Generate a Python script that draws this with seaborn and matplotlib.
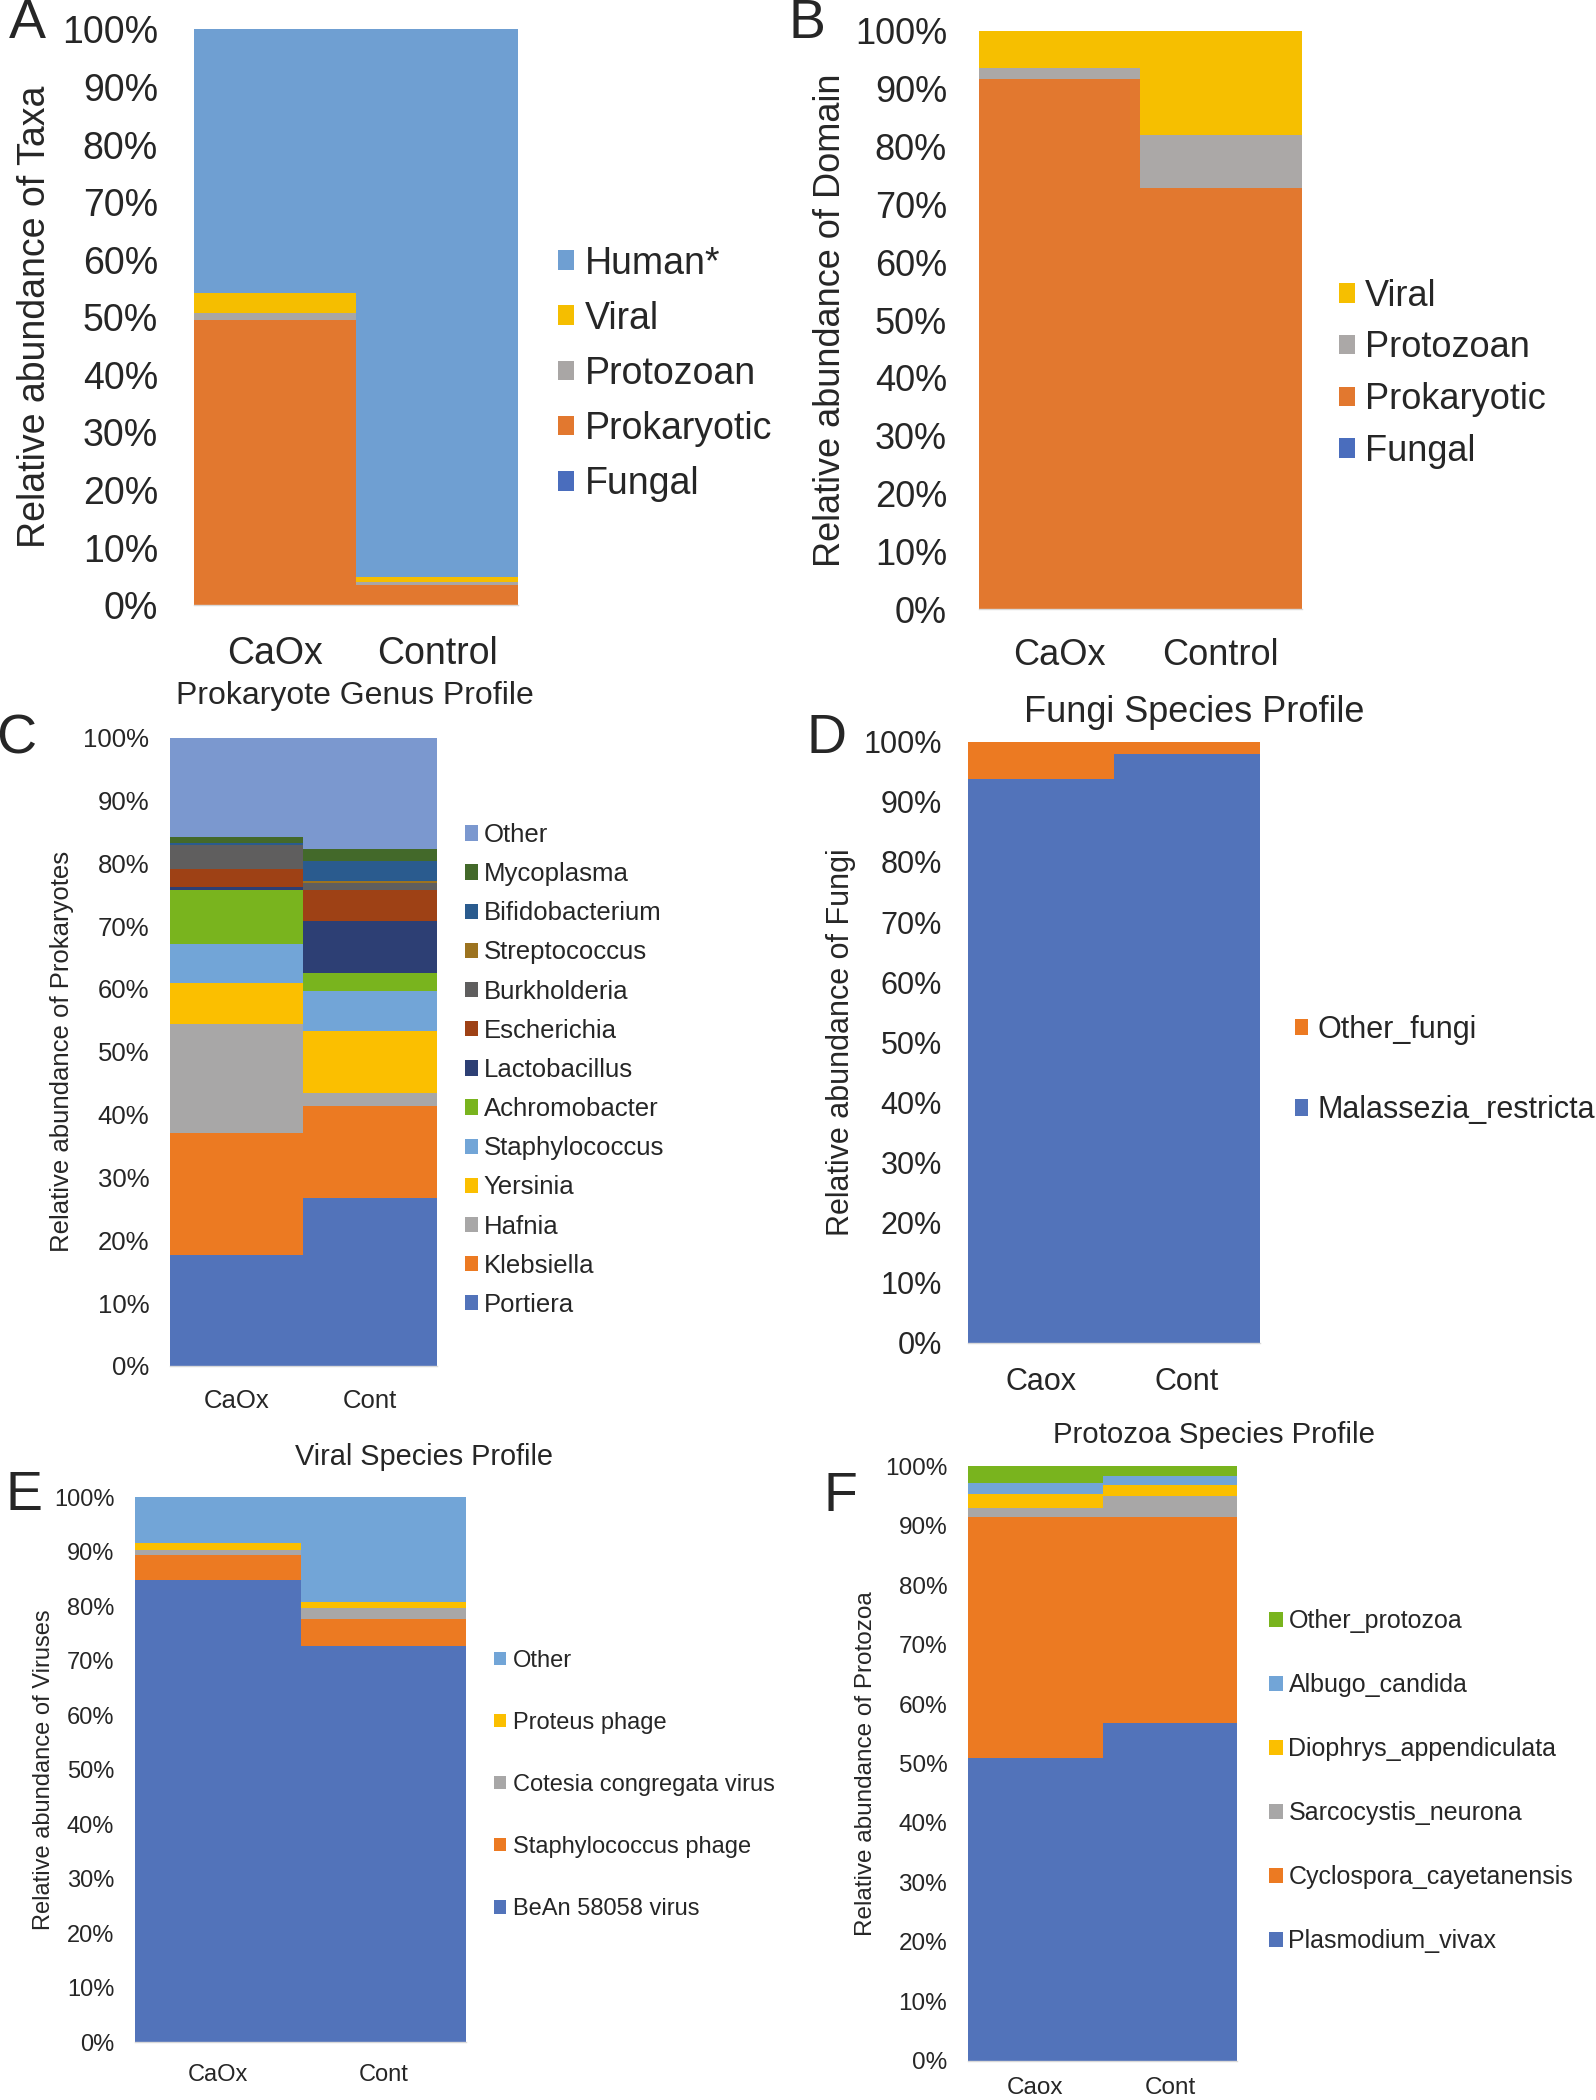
import numpy as np
import matplotlib
matplotlib.use("Agg")
import matplotlib.pyplot as plt
from matplotlib.patches import Patch
import seaborn as sns

sns.set_theme(style="white")
plt.rcParams["font.family"] = ["Liberation Sans", "DejaVu Sans"]

# ---- Panel A: taxa ----
samples_a = ["CaOx", "Control"]
taxa_names = ["Fungal", "Prokaryotic", "Protozoan", "Viral", "Human*"]
fungal_a = [0.1, 0.05]
prokaryotic_a = [49.5, 3.5]
protozoan_a = [1.2, 0.4]
viral_a = [3.5, 1.0]
human_a = [45.7, 95.05]

# ---- Panel B: domain ----
samples_b = ["CaOx", "Control"]
domain_names = ["Fungal", "Prokaryotic", "Protozoan", "Viral"]
fungal_b = [0.05, 0.05]
prokaryotic_b = [91.6, 72.7]
protozoan_b = [1.9, 9.3]
viral_b = [6.45, 17.95]

# ---- Panel C: prokaryote genus ----
samples_c = ["CaOx", "Cont"]
genus_names = ["Portiera", "Klebsiella", "Hafnia", "Yersinia", "Staphylococcus",
               "Achromobacter", "Lactobacillus", "Escherichia", "Burkholderia",
               "Streptococcus", "Bifidobacterium", "Mycoplasma", "Other"]
genus_caox = [17.6, 19.5, 17.4, 6.4, 6.3, 8.5, 0.5, 2.9, 3.8, 0.1, 0.3, 0.9, 15.8]
genus_cont = [26.7, 14.6, 2.2, 9.8, 6.3, 2.9, 8.4, 4.8, 1.1, 0.4, 3.2, 1.9, 17.7]

# ---- Panel D: fungi species ----
samples_d = ["Caox", "Cont"]
fungi_names = ["Malassezia_restricta", "Other_fungi"]
malassezia = [93.8, 98.0]
other_fungi = [6.2, 2.0]

# ---- Panel E: viral species ----
samples_e = ["CaOx", "Cont"]
virus_names = ["BeAn 58058 virus", "Staphylococcus phage", "Cotesia congregata virus",
               "Proteus phage", "Other"]
bean_virus = [84.7, 72.6]
staph_phage = [4.7, 5.1]
cotesia_virus = [0.8, 2.0]
proteus_phage = [1.3, 1.0]
other_virus = [8.5, 19.3]

# ---- Panel F: protozoa species ----
samples_f = ["Caox", "Cont"]
protozoa_names = ["Plasmodium_vivax", "Cyclospora_cayetanensis", "Sarcocystis_neurona",
                  "Diophrys_appendiculata", "Albugo_candida", "Other_protozoa"]
plasmodium = [50.9, 56.8]
cyclospora = [40.6, 34.7]
sarcocystis = [1.5, 3.55]
diophrys = [2.35, 1.85]
albugo = [1.85, 1.4]
other_protozoa = [2.8, 1.7]

BLUE = "#5273BA"
ORANGE = "#EC7A22"
GRAY = "#A8A7A7"
YELLOW = "#FBBF00"
LIGHTBLUE = "#72A5D7"
GREEN = "#79B41E"

W, H = 1596, 2100


def fx(px):
    return px / W


def fy(px):
    return 1 - px / H


def stacked_panel(fig, rect, samples, names, values, colors, fs, tick_pad, xpad,
                  ylabel, ylabel_x, leg_xy, leg_fs, handle, textpad, spacing):
    ax = fig.add_axes(rect)
    cum = np.cumsum(np.array(values, dtype=float), axis=0)
    # draw cumulative totals from the top of the stack down
    for i in range(len(names) - 1, -1, -1):
        sns.barplot(x=samples, y=cum[i], order=samples, color=colors[i], width=1.0,
                    saturation=1, errorbar=None, linewidth=0, ax=ax)
    ax.set_xlim(-0.5, 1.5)
    ax.set_ylim(0, 100)
    ax.set_yticks(range(0, 101, 10))
    ax.set_yticklabels([f"{v}%" for v in range(0, 101, 10)])
    ax.tick_params(axis="y", length=0, pad=tick_pad, labelsize=fs)
    ax.tick_params(axis="x", length=0, pad=xpad, labelsize=fs)
    ax.set_xlabel("")
    ax.set_ylabel("")
    for side in ["top", "right", "left"]:
        ax.spines[side].set_visible(False)
    ax.spines["bottom"].set_color("#D9D9D9")
    ax.spines["bottom"].set_linewidth(1)
    ax.grid(False)

    box = ax.get_position()
    fig.text(ylabel_x, box.y0 + box.height / 2, ylabel, rotation=90,
             ha="center", va="center", fontsize=fs)

    handles = [Patch(facecolor=colors[i], edgecolor="none", label=names[i])
               for i in range(len(names) - 1, -1, -1)]
    fig.legend(handles=handles, loc="center left", bbox_to_anchor=leg_xy,
               bbox_transform=fig.transFigure, frameon=False, fontsize=leg_fs,
               handlelength=handle, handleheight=handle, handletextpad=textpad,
               labelspacing=spacing, borderpad=0, borderaxespad=0)
    return ax


fig = plt.figure(figsize=(15.96, 21.0), dpi=100)

# A
stacked_panel(fig, [0.1217, 0.7118, 0.2030, 0.2742], samples_a, taxa_names,
              [fungal_a, prokaryotic_a, protozoan_a, viral_a, human_a],
              ["#4A6DBD", "#E2782F", "#A9A6A5", "#F5BE00", "#6F9FD2"],
              27, 26, 22, "Relative abundance of Taxa", fx(35),
              (0.3498, 0.8220), 27, 0.43, 0.29, 0.51)
# B
stacked_panel(fig, [0.6133, 0.7099, 0.2022, 0.2754], samples_b, domain_names,
              [fungal_b, prokaryotic_b, protozoan_b, viral_b],
              ["#4A6DBD", "#E2782F", "#ABA8A7", "#F6BF00"],
              26, 23, 21, "Relative abundance of Domain", fx(830),
              (0.8390, 0.8220), 26, 0.45, 0.26, 0.46)
# C
stacked_panel(fig, [0.1066, 0.3496, 0.1669, 0.2991], samples_c, genus_names,
              [list(v) for v in zip(genus_caox, genus_cont)],
              [BLUE, ORANGE, GRAY, YELLOW, LIGHTBLUE, GREEN, "#2D3F74", "#9E4115",
               "#5F5E5E", "#9C7320", "#2A5B8E", "#43692A", "#7B98CF"],
              18.5, 15, 16.5, "Relative abundance of Prokaryotes", fx(62),
              (0.2911, 0.4905), 18.5, 0.54, 0.21, 0.59)
# D
stacked_panel(fig, [0.6066, 0.3605, 0.1829, 0.2863], samples_d, fungi_names,
              [malassezia, other_fungi], [BLUE, ORANGE],
              22, 19, 17, "Relative abundance of Fungi", fx(841),
              (0.8113, 0.4905), 22, 0.44, 0.31, 1.66)
# E
stacked_panel(fig, [0.0847, 0.0276, 0.2073, 0.2595], samples_e, virus_names,
              [bean_virus, staph_phage, cotesia_virus, proteus_phage, other_virus],
              [BLUE, ORANGE, GRAY, YELLOW, LIGHTBLUE],
              17, 15, 15.5, "Relative abundance of Viruses", fx(44),
              (0.3096, 0.1500), 17, 0.5, 0.28, 1.70)
# F
stacked_panel(fig, [0.6066, 0.0187, 0.1686, 0.2831], samples_f, protozoa_names,
              [plasmodium, cyclospora, sarcocystis, diophrys, albugo, other_protozoa],
              [BLUE, ORANGE, GRAY, YELLOW, LIGHTBLUE, GREEN],
              17.5, 15, 12, "Relative abundance of Protozoa", fx(866),
              (0.7954, 0.1518), 18, 0.54, 0.22, 1.60)

# panel titles
fig.text(fx(355), fy(696), "Prokaryote Genus Profile", ha="center", va="center", fontsize=23)
fig.text(fx(1194), fy(712), "Fungi Species Profile", ha="center", va="center", fontsize=26)
fig.text(fx(424), fy(1457), "Viral Species Profile", ha="center", va="center", fontsize=20.8)
fig.text(fx(1214), fy(1435), "Protozoa Species Profile", ha="center", va="center", fontsize=21.2)

# panel letters
for letter, x, y in [("A", 27, 24), ("B", 807, 24), ("C", 16, 739),
                     ("D", 826, 739), ("E", 24, 1496), ("F", 840, 1497)]:
    fig.text(fx(x), fy(y), letter, ha="center", va="center", fontsize=40)

fig.savefig("out.png", dpi=100)
